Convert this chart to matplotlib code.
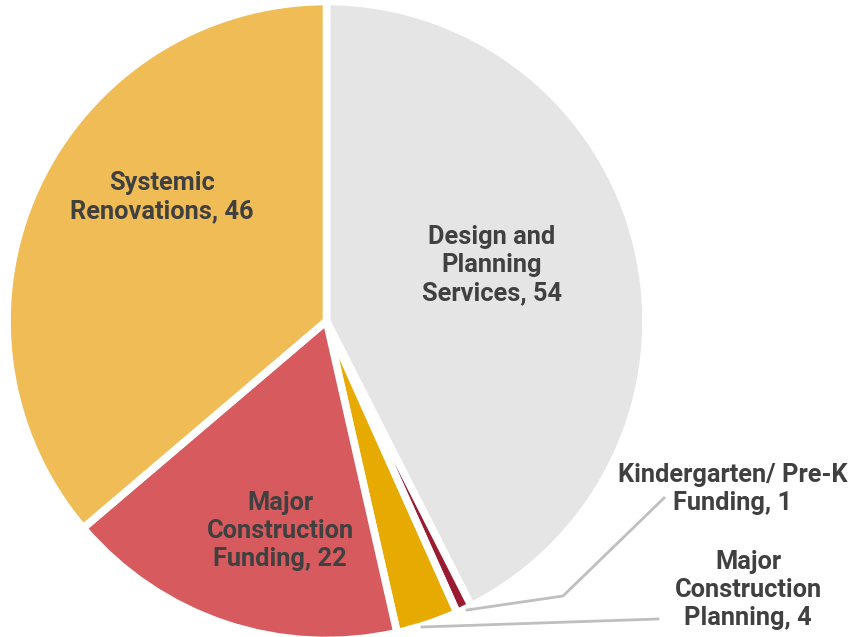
import matplotlib
matplotlib.use("Agg")
import matplotlib.pyplot as plt

plt.rcParams['font.family'] = ['Roboto', 'DejaVu Sans']

categories = ["Design and\nPlanning\nServices", "Kindergarten/ Pre-K\nFunding",
              "Major\nConstruction\nPlanning", "Major\nConstruction\nFunding",
              "Systemic\nRenovations"]
values = [54, 1, 4, 22, 46]
colors = ["#e5e5e5", "#9b1c31", "#e6aa00", "#d75b5e", "#f0bc55"]

W, H = 853, 637
fig = plt.figure(figsize=(W / 100, H / 100), dpi=100)
ax = fig.add_axes([0, 0, 1, 1])

cx, cy, r = 326.5, H - 321, 319.5
ax.pie(values, colors=colors, startangle=90, counterclock=False,
       center=(cx, cy), radius=r, frame=True,
       wedgeprops=dict(edgecolor="white", linewidth=5.5))
ax.set_xlim(0, W)
ax.set_ylim(0, H)
ax.axis("off")

txt = dict(ha="center", va="center", fontsize=18.3, fontweight="bold",
           color="#404040", linespacing=1.22)

labels = [f"{c}, {v}" for c, v in zip(categories, values)]
# labels inside the large slices
ax.text(492, H - 265, labels[0], **txt)
ax.text(280, H - 531, labels[3], **txt)
ax.text(162, H - 197, labels[4], **txt)
# labels outside the small slices, with leader lines
ax.text(733, H - 489, labels[1], **txt)
ax.text(748, H - 590, labels[2], **txt)
ax.plot([467, 563, 664], [H - 610, H - 596, H - 498], color="#bfbfbf", lw=2)
ax.plot([422, 658], [H - 627, H - 619], color="#bfbfbf", lw=2)

fig.savefig("out.png", dpi=100)
